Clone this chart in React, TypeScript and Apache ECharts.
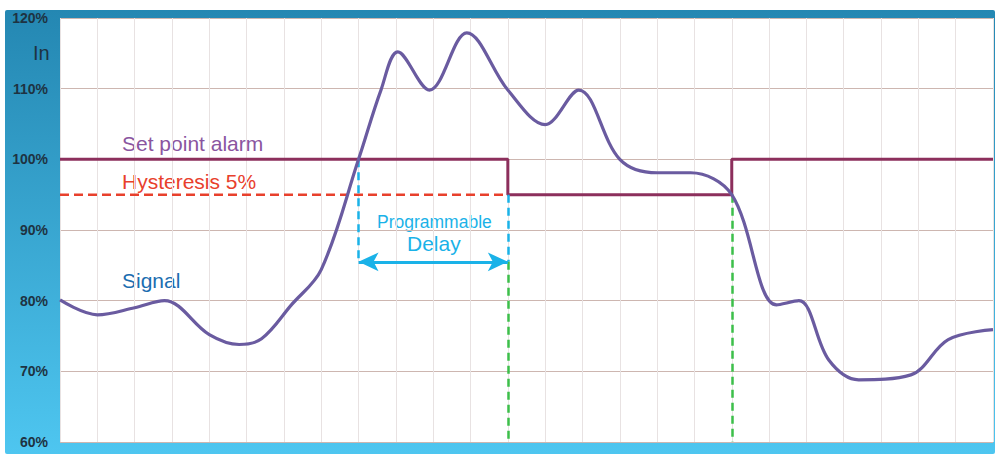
import React, { useEffect, useRef } from "react";
import * as echarts from "echarts";

const signalPoints: [number, number][] = [
  [0, 80.1], [1, 78], [2, 79], [2.8, 80], [4, 75.2], [4.8, 73.8], [5.4, 74.6],
  [6.2, 79.4], [7, 84.4], [8, 100], [8.6, 109.8], [9.05, 115.2], [9.9, 109.8],
  [10.9, 117.9], [12, 109.8], [13, 104.9], [13.9, 109.8], [15, 100], [16, 98.1],
  [16.9, 98.1], [18, 95], [19.2, 79.4], [19.8, 80], [20.6, 71.6], [21.4, 68.8],
  [22.8, 69.5], [23.8, 74.5], [25, 75.9],
];
const setPointPoints: [number, number][] = [
  [0, 100], [12, 100], [12, 95], [18, 95], [18, 100], [25, 100],
];
const hysteresisPoints: [number, number][] = [[0, 95], [12, 95]];
const delayStart = 8;
const delayEnd = 12;
const releaseX = 18;
const arrowLevel = 85.5;
const yTicks = [60, 70, 80, 90, 100, 110, 120];

export default function App() {
  const ref = useRef<HTMLDivElement>(null);
  useEffect(() => {
    if (!ref.current) return;
    const chart = echarts.init(ref.current, null, { renderer: "svg" });
    const font = "Liberation Sans, Arial, sans-serif";
    chart.setOption({
      animation: false,
      backgroundColor: "#ffffff",
      graphic: [
        {
          type: "rect", z: -10, silent: true,
          shape: { x: 5, y: 10, width: 990, height: 444, r: 2 },
          style: {
            fill: new echarts.graphic.LinearGradient(0, 0, 0, 1, [
              { offset: 0, color: "#2487b2" },
              { offset: 1, color: "#4ec6f0" },
            ]),
          },
        },
        {
          type: "rect", z: -9, silent: true,
          shape: { x: 60, y: 18, width: 933, height: 424 },
          style: { fill: "#ffffff" },
        },
        {
          type: "text", left: 33, top: 43,
          style: { text: "In", fontSize: 20, fill: "#1e3342", fontFamily: font },
        },
        {
          type: "text", left: 122, top: 133,
          style: { text: "Set point alarm", fontSize: 21, fill: "#8a55a0", fontFamily: font },
        },
        {
          type: "text", left: 122, top: 171,
          style: { text: "Hysteresis 5%", fontSize: 21, fill: "#e8402c", fontFamily: font },
        },
        {
          type: "text", left: 122, top: 270,
          style: { text: "Signal", fontSize: 21, fill: "#1b6db0", fontFamily: font },
        },
        {
          type: "text", left: 377, top: 213,
          style: { text: "Programmable", fontSize: 17.5, fill: "#1ab2e8", fontFamily: font },
        },
        {
          type: "text", left: 407, top: 233,
          style: { text: "Delay", fontSize: 21, fill: "#1ab2e8", fontFamily: font },
        },
      ],
      grid: { left: 60, right: 2, top: 18, bottom: 12 },
      xAxis: {
        type: "value", min: 0, max: 25, interval: 1,
        axisLine: { show: false }, axisTick: { show: false }, axisLabel: { show: false },
        splitLine: { show: true, lineStyle: { color: "#e8e2e2", width: 1 } },
      },
      yAxis: {
        type: "value", min: 60, max: 120, interval: 10,
        axisLine: { show: false }, axisTick: { show: false },
        axisLabel: {
          formatter: (v: number) => (yTicks.includes(v) ? v + "%" : ""),
          color: "#1e3342", fontSize: 14, fontWeight: "bold", fontFamily: font, margin: 12,
        },
        splitLine: { show: true, lineStyle: { color: "#cdb6b0", width: 1 } },
      },
      series: [
        {
          type: "line", data: hysteresisPoints, symbol: "none",
          lineStyle: { color: "#e8402c", width: 2.5, type: [9, 5] }, z: 2,
        },
        {
          type: "line", data: setPointPoints, symbol: "none",
          lineStyle: { color: "#8c2f5c", width: 3 }, z: 3,
        },
        {
          type: "line", data: [], symbol: "none",
          markLine: {
            silent: true, symbol: ["none", "none"], label: { show: false },
            data: [
              [{ coord: [delayStart, 100] }, { coord: [delayStart, arrowLevel] }],
              [{ coord: [delayEnd, 95] }, { coord: [delayEnd, arrowLevel] }],
            ],
            lineStyle: { color: "#1ab2e8", width: 2.5, type: [8, 5] },
          },
        },
        {
          type: "line", data: [], symbol: "none",
          markLine: {
            silent: true, symbol: ["none", "none"], label: { show: false },
            data: [
              [{ coord: [delayEnd, arrowLevel] }, { coord: [delayEnd, 60] }],
              [{ coord: [releaseX, 95] }, { coord: [releaseX, 60] }],
            ],
            lineStyle: { color: "#3cbf4a", width: 2.5, type: [8, 5] },
          },
        },
        {
          type: "line", data: [], symbol: "none",
          markLine: {
            silent: true, symbol: ["arrow", "arrow"], symbolSize: [14, 20], label: { show: false },
            data: [[{ coord: [delayStart, arrowLevel] }, { coord: [delayEnd, arrowLevel] }]],
            lineStyle: { color: "#1ab2e8", width: 3, type: "solid" },
          },
        },
        {
          type: "line", data: signalPoints, symbol: "none", smooth: 0.35,
          lineStyle: { color: "#6a5ba0", width: 3.2 }, z: 5,
        },
      ],
    });
    return () => chart.dispose();
  }, []);
  return (
    <div
      ref={ref}
      style={{ position: "fixed", left: 0, top: 0, width: 995, height: 454 }}
    />
  );
}
